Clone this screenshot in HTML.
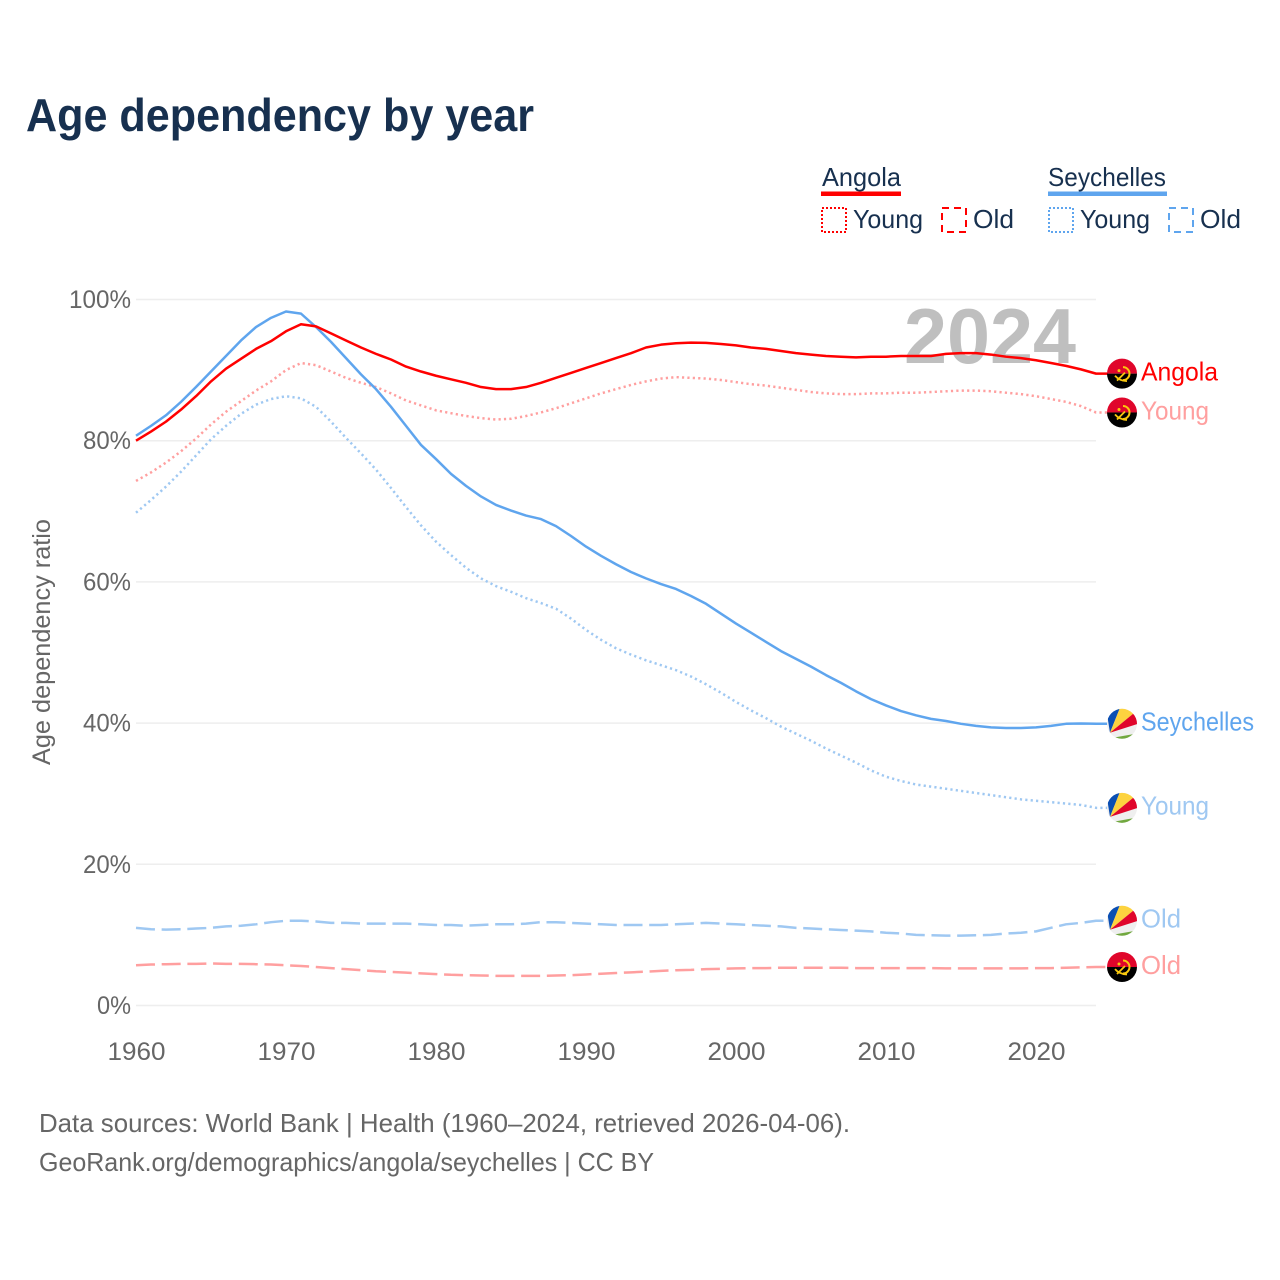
<!DOCTYPE html>
<html lang="en">
<head>
<meta charset="utf-8">
<title>Age dependency by year</title>
<style>
html,body{margin:0;padding:0;background:#fff;}
svg{display:block;font-family:"Liberation Sans",sans-serif;}
</style>
</head>
<body>
<svg id="chart" xmlns="http://www.w3.org/2000/svg" width="1280" height="1280" viewBox="0 0 1280 1280">
  <defs>
    <clipPath id="flag-clip"><circle cx="0" cy="0" r="15"/></clipPath>
    <g id="flag-angola">
      <g clip-path="url(#flag-clip)">
        <rect x="-16" y="-16" width="32" height="16" fill="#e0062b"/>
        <rect x="-16" y="0" width="32" height="16" fill="#000"/>
        <path d="M1,-6.5 A6.5,6.5 0 0 1 1,6.5" fill="none" stroke="#f9c80e" stroke-width="2"/>
        <path d="M-7,2 Q-3,7 5,7.5 M-5,7 L3,-1" fill="none" stroke="#f9c80e" stroke-width="1.8"/>
        <circle cx="-3" cy="-3" r="1.5" fill="#f9c80e"/>
      </g>
    </g>
    <g id="flag-seychelles">
      <g clip-path="url(#flag-clip)">
        <rect x="-16" y="-16" width="32" height="32" fill="#efefef"/>
        <path d="M-12,9 L-16,-16 L-2,-16 Z" fill="#0b4fb3"/>
        <path d="M-12,9 L-2,-16 L16,-16 L16,-14 Z" fill="#fdd33f"/>
        <path d="M-12,9 L16,-14 L16,0 Z" fill="#e0062b"/>
        <path d="M-12,14.5 L16,9.5 L16,16 L-16,16 Z" fill="#71a83f"/>
      </g>
    </g>
  </defs>

  <text x="26" y="131" font-size="46" font-weight="700" fill="#17304f" textLength="508" lengthAdjust="spacingAndGlyphs">Age dependency by year</text>

  <g font-size="26" fill="#17304f">
    <text x="822" y="186" textLength="79" lengthAdjust="spacingAndGlyphs">Angola</text>
    <rect x="821" y="191.5" width="80" height="4.5" fill="#ff0000"/>
    <rect x="822" y="208" width="24" height="24" fill="none" stroke="#ff0000" stroke-width="2" stroke-dasharray="2 2"/>
    <text x="853" y="228" textLength="70" lengthAdjust="spacingAndGlyphs">Young</text>
    <rect x="942" y="208" width="24" height="24" fill="none" stroke="#ff0000" stroke-width="2" stroke-dasharray="7 5"/>
    <text x="973" y="228" textLength="41" lengthAdjust="spacingAndGlyphs">Old</text>
    <text x="1048" y="186" textLength="118" lengthAdjust="spacingAndGlyphs">Seychelles</text>
    <rect x="1048" y="191.5" width="119" height="4.5" fill="#5fa5ee"/>
    <rect x="1049" y="208" width="24" height="24" fill="none" stroke="#5fa5ee" stroke-width="2" stroke-dasharray="2 2"/>
    <text x="1080" y="228" textLength="70" lengthAdjust="spacingAndGlyphs">Young</text>
    <rect x="1169" y="208" width="24" height="24" fill="none" stroke="#5fa5ee" stroke-width="2" stroke-dasharray="7 5"/>
    <text x="1200" y="228" textLength="41" lengthAdjust="spacingAndGlyphs">Old</text>
  </g>

  <g id="grid"></g>
  <g id="y-axis"></g>
  <g id="x-axis"></g>

  <text transform="translate(50,642) rotate(-90)" text-anchor="middle" font-size="25" fill="#666" textLength="246" lengthAdjust="spacingAndGlyphs">Age dependency ratio</text>

  <text x="904" y="363" font-size="78" font-weight="700" fill="#bfbfbf" textLength="172" lengthAdjust="spacingAndGlyphs">2024</text>

  <g id="series"></g>
  <g id="end-labels"></g>

  <g font-size="26" fill="#666">
    <text x="39" y="1132" textLength="811" lengthAdjust="spacingAndGlyphs">Data sources: World Bank | Health (1960–2024, retrieved 2026-04-06).</text>
    <text x="39" y="1171" textLength="615" lengthAdjust="spacingAndGlyphs">GeoRank.org/demographics/angola/seychelles | CC BY</text>
  </g>
</svg>
<script>
const startYear = 1960;
const xTickLabels = [1960, 1970, 1980, 1990, 2000, 2010, 2020];
const yTickLabels = [0, 20, 40, 60, 80, 100];

const angolaTotal = [
  80.0,81.3,82.7,84.4,86.3,88.4,90.2,91.6,93.0,94.1,
  95.5,96.5,96.2,95.2,94.2,93.2,92.3,91.5,90.5,89.8,
  89.2,88.7,88.2,87.6,87.3,87.3,87.6,88.2,88.9,89.6,
  90.3,91.0,91.7,92.4,93.2,93.6,93.8,93.9,93.85,93.7,
  93.5,93.2,93.0,92.7,92.4,92.2,92.0,91.9,91.8,91.9,
  91.9,92.0,92.0,92.0,92.3,92.4,92.4,92.2,91.9,91.7,
  91.4,91.0,90.6,90.1,89.5
];
const angolaYoung = [
  74.3,75.5,76.9,78.5,80.3,82.3,84.1,85.6,87.1,88.4,
  90.0,91.0,90.7,89.8,88.9,88.2,87.6,86.7,85.7,85.0,
  84.3,83.9,83.5,83.2,83.0,83.1,83.5,84.0,84.6,85.3,
  86.0,86.7,87.3,87.9,88.4,88.8,89.0,88.9,88.8,88.6,
  88.3,88.0,87.8,87.5,87.2,86.9,86.7,86.6,86.6,86.7,
  86.7,86.8,86.8,86.9,87.0,87.1,87.1,87.0,86.8,86.6,
  86.3,85.9,85.5,84.9,84.0
];
const angolaOld = [
  5.7,5.8,5.85,5.9,5.9,5.95,5.9,5.9,5.85,5.8,
  5.7,5.6,5.45,5.3,5.15,5.0,4.85,4.75,4.65,4.55,
  4.45,4.35,4.3,4.25,4.2,4.2,4.2,4.2,4.25,4.3,
  4.4,4.5,4.6,4.7,4.8,4.9,5.0,5.05,5.15,5.2,
  5.25,5.3,5.3,5.35,5.35,5.35,5.35,5.35,5.3,5.3,
  5.3,5.3,5.3,5.3,5.25,5.25,5.25,5.25,5.25,5.25,
  5.3,5.3,5.35,5.4,5.45
];
const seychellesTotal = [
  80.7,82.1,83.6,85.5,87.6,89.8,92.0,94.2,96.1,97.4,
  98.3,98.0,96.1,94.0,91.7,89.4,87.3,84.8,82.1,79.4,
  77.4,75.3,73.6,72.1,70.9,70.1,69.4,68.9,67.9,66.5,
  65.0,63.7,62.5,61.4,60.5,59.7,59.0,58.0,56.9,55.5,
  54.1,52.8,51.5,50.2,49.1,48.0,46.8,45.7,44.5,43.4,
  42.5,41.7,41.1,40.6,40.3,39.9,39.6,39.4,39.3,39.3,
  39.4,39.6,39.9,39.95,39.9
];
const seychellesYoung = [
  69.8,71.6,73.5,75.6,77.9,80.2,82.1,83.8,85.1,85.9,
  86.3,86.0,84.8,82.7,80.4,78.2,75.9,73.3,70.6,68.0,
  65.7,63.8,62.0,60.5,59.4,58.6,57.7,57.0,56.2,54.8,
  53.2,51.8,50.6,49.7,48.9,48.2,47.5,46.6,45.5,44.3,
  43.0,41.8,40.7,39.5,38.5,37.5,36.4,35.4,34.4,33.3,
  32.4,31.8,31.3,31.0,30.7,30.4,30.1,29.8,29.5,29.2,
  29.0,28.8,28.6,28.4,28.0
];
const seychellesOld = [
  11.0,10.8,10.75,10.8,10.9,11.0,11.2,11.3,11.5,11.8,
  12.0,12.0,11.9,11.7,11.7,11.6,11.6,11.6,11.6,11.5,
  11.4,11.4,11.3,11.4,11.5,11.5,11.6,11.8,11.8,11.7,
  11.6,11.5,11.4,11.4,11.4,11.4,11.5,11.6,11.7,11.6,
  11.5,11.4,11.3,11.2,11.0,10.9,10.8,10.7,10.6,10.5,
  10.3,10.2,10.0,9.95,9.9,9.9,9.95,10.0,10.2,10.3,
  10.5,11.0,11.5,11.7,12.0
];

const SVG_NS = 'http://www.w3.org/2000/svg';
function xScale(year) { return 136 + (year - 1960) * (960 / 64); }
function yScale(pct) { return 1005.5 - pct * 7.06; }
function make(tag, attrs, parent) {
  const el = document.createElementNS(SVG_NS, tag);
  for (const k in attrs) el.setAttribute(k, attrs[k]);
  parent.appendChild(el);
  return el;
}

const grid = document.getElementById('grid');
const yAxis = document.getElementById('y-axis');
const xAxis = document.getElementById('x-axis');
const seriesLayer = document.getElementById('series');
const labelLayer = document.getElementById('end-labels');

yTickLabels.forEach(function (v) {
  const line = make('line', { x1: 136, x2: 1096, y1: yScale(v), y2: yScale(v), stroke: '#eeeeee', 'stroke-width': 1.5 }, grid);
  
  
  const t = make('text', { x: 131, y: yScale(v) + 8.5, 'text-anchor': 'end', 'font-size': 25, fill: '#666' }, yAxis);
  
  
  t.setAttribute('textLength', String(v) === '100' ? 62 : (v === 0 ? 34 : 48));
  t.setAttribute('lengthAdjust', 'spacingAndGlyphs');
  t.textContent = v + '%';
});

xTickLabels.forEach(function (v) {
  const t = make('text', { x: xScale(v) + 0.5, y: 1060, 'text-anchor': 'middle', 'font-size': 25, fill: '#666', textLength: 58, lengthAdjust: 'spacingAndGlyphs' }, xAxis);
  
  
  t.textContent = v;
});

const DOT = '2.2 3.2';
const DASH = '19 6.7';
const RED = '#ff0000', RED_L = '#ff9f9f', BLUE = '#5fa5ee', BLUE_L = '#9fc8f2';

const seriesList = [
  { name: 'angola-old', values: angolaOld, color: RED_L, dash: DASH, flag: 'angola', label: 'Old', w: 40, width: 2.5 },
  { name: 'seychelles-old', values: seychellesOld, color: BLUE_L, dash: DASH, flag: 'seychelles', label: 'Old', w: 40, width: 2.5 },
  { name: 'seychelles-young', values: seychellesYoung, color: BLUE_L, dash: DOT, flag: 'seychelles', label: 'Young', w: 68, width: 2.5 },
  { name: 'angola-young', values: angolaYoung, color: RED_L, dash: DOT, flag: 'angola', label: 'Young', w: 68, width: 2.5 },
  { name: 'seychelles-total', values: seychellesTotal, color: BLUE, dash: null, flag: 'seychelles', label: 'Seychelles', w: 113, width: 2.5 },
  { name: 'angola-total', values: angolaTotal, color: RED, dash: null, flag: 'angola', label: 'Angola', w: 77, width: 2.5 }
];

seriesList.forEach(function (s) {
  const pts = s.values.map(function (v, i) { return xScale(startYear + i).toFixed(2) + ',' + yScale(v).toFixed(2); });
  const lastY = yScale(s.values[s.values.length - 1]);
  const lastX = xScale(startYear + s.values.length - 1);
  const attrs = { points: pts.join(' ') + ' ' + (lastX + 12) + ',' + lastY.toFixed(2), fill: 'none', stroke: s.color, 'stroke-width': s.width, 'stroke-linejoin': 'round' };
  if (s.dash) attrs['stroke-dasharray'] = s.dash;
  const line = make('polyline', attrs, seriesLayer);
  
  

  const flag = make('use', { href: '#flag-' + s.flag, transform: 'translate(1122,' + lastY.toFixed(2) + ')' }, labelLayer);
  
  

  const t = make('text', { x: 1141, y: (lastY + 6.8).toFixed(2), 'font-size': 26, fill: s.color, textLength: s.w, lengthAdjust: 'spacingAndGlyphs' }, labelLayer);
  
  
  t.textContent = s.label;
});
</script>
</body>
</html>
